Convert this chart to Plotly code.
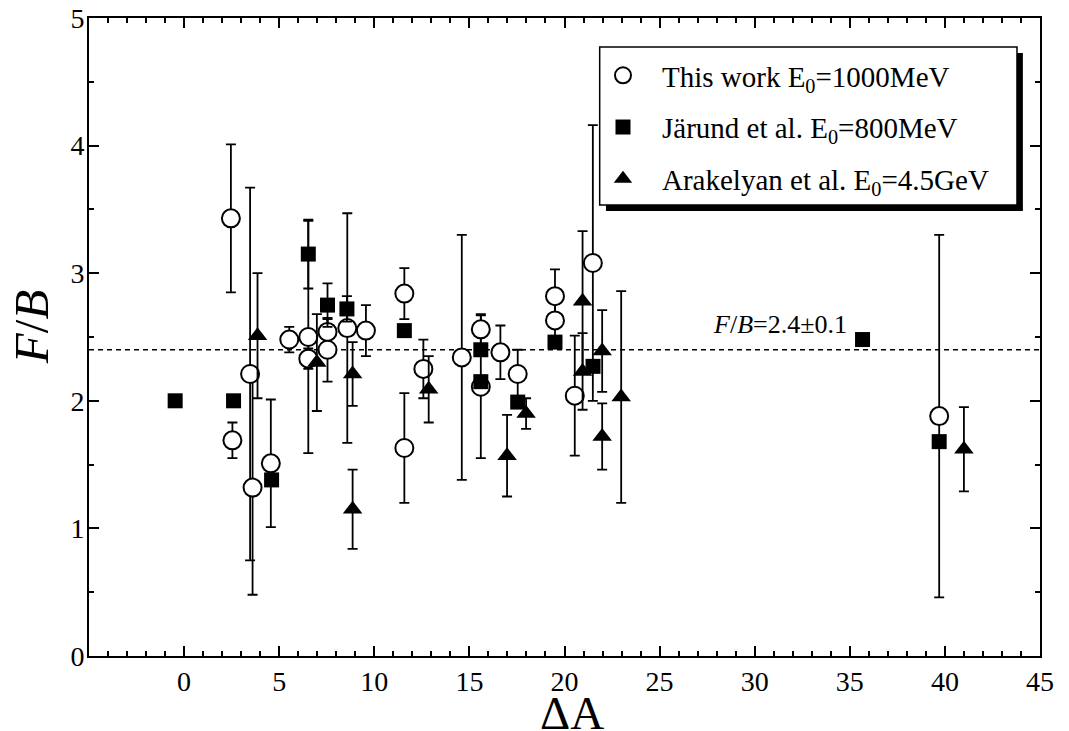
import plotly.graph_objects as go

# ---------------- data ----------------
# This work, E0 = 1000 MeV (open circles)
this_x = [2.46, 2.54, 3.47, 3.60, 4.56, 5.53, 6.53, 6.53, 7.54, 7.54, 8.58, 9.56,
          11.58, 11.58, 12.58, 14.60, 15.60, 15.60, 16.63, 17.54, 19.50, 19.50,
          20.54, 21.49, 39.70]
this_y = [3.43, 1.69, 2.21, 1.32, 1.51, 2.48, 2.50, 2.33, 2.54, 2.40, 2.57, 2.55,
          2.84, 1.63, 2.25, 2.34, 2.56, 2.11, 2.38, 2.21, 2.82, 2.63,
          2.04, 3.08, 1.88]
this_err = [0.58, 0.14, 1.46, 0.84, 0.50, 0.10, 0.91, 0.08, 0.10, 0.25, 0.90, 0.20,
            0.20, 0.43, 0.23, 0.96, 0.12, 0.56, 0.21, 0.19, 0.21, 0.15,
            0.47, 1.08, 1.42]

# Jarund et al., E0 = 800 MeV (filled squares)
jar_x = [-0.47, 2.60, 4.60, 6.53, 7.54, 8.56, 11.58, 15.60, 15.60, 17.54, 19.50,
         21.50, 35.67, 39.70]
jar_y = [2.00, 2.00, 1.38, 3.15, 2.75, 2.72, 2.55, 2.40, 2.15, 1.99, 2.46,
         2.27, 2.48, 1.68]
jar_err = [0, 0, 0, 0.27, 0.17, 0.10, 0, 0, 0, 0, 0, 0, 0, 0]

# Arakelyan et al., E0 = 4.5 GeV (filled triangles)
ara_x = [3.86, 6.98, 8.86, 8.86, 12.86, 16.98, 17.98, 20.95, 20.95, 21.98, 21.98,
         22.98, 41.00]
ara_y = [2.51, 2.30, 2.21, 1.15, 2.09, 1.57, 1.90, 2.78, 2.23, 2.39, 1.72,
         2.03, 1.62]
ara_err = [0.49, 0.38, 0.25, 0.31, 0.26, 0.32, 0.12, 0.55, 0.30, 0.32, 0.26,
           0.83, 0.33]

fit_value = 2.4
fit_label = "<i>F</i>/<i>B</i>=2.4±0.1"

x_ticks = [0, 5, 10, 15, 20, 25, 30, 35, 40, 45]
y_ticks = [0, 1, 2, 3, 4, 5]

names = ["This work E<sub>0</sub>=1000MeV",
         "Järund et al. E<sub>0</sub>=800MeV",
         "Arakelyan et al. E<sub>0</sub>=4.5GeV"]

SERIF = "Liberation Serif"

# ---------------- figure ----------------
fig = go.Figure()

err_style = dict(type="data", color="black", thickness=1.8, width=5, visible=True)

fig.add_trace(go.Scatter(
    x=this_x, y=this_y, mode="markers", name=names[0], legendgroup="a",
    error_y=dict(array=this_err, **err_style),
    marker=dict(symbol="circle", size=18, color="white",
                line=dict(color="black", width=2)),
))
fig.add_trace(go.Scatter(
    x=jar_x, y=jar_y, mode="markers", name=names[1], legendgroup="b",
    error_y=dict(array=jar_err, **err_style),
    marker=dict(symbol="square", size=15, color="black",
                line=dict(color="black", width=0)),
))
fig.add_trace(go.Scatter(
    x=ara_x, y=ara_y, mode="markers", name=names[2], legendgroup="c",
    error_y=dict(array=ara_err, **err_style),
    marker=dict(symbol="triangle-up", size=17, color="black",
                line=dict(color="black", width=0)),
))

# fit line
fig.add_shape(type="line", xref="paper", x0=0, x1=1, yref="y",
              y0=fit_value, y1=fit_value,
              line=dict(color="black", width=1.6, dash="5px,4px"), layer="below")

# legend box with drop shadow
fig.add_shape(type="rect", xref="paper", yref="paper",
              x0=0.5436, x1=0.982, y0=0.6975, y1=0.945,
              fillcolor="black", line=dict(width=0), layer="above")
fig.add_shape(type="rect", xref="paper", yref="paper",
              x0=0.537, x1=0.9758, y0=0.7069, y1=0.9545,
              fillcolor="white", line=dict(color="black", width=1.5), layer="above")

tick_font = dict(family=SERIF, size=28, color="black")

axis_common = dict(
    showline=True, linecolor="black", linewidth=2, mirror="allticks",
    ticks="inside", tickcolor="black", tickwidth=2, ticklen=10,
    showgrid=False, zeroline=False, automargin=False,
)

fig.update_xaxes(range=[-5, 45], tickmode="array", tickvals=x_ticks,
                 ticktext=[str(v) for v in x_ticks], ticklabelstandoff=-1,
                 minor=dict(ticks="inside", dtick=1, tick0=0, ticklen=5,
                            tickwidth=2, tickcolor="black"),
                 **axis_common)
fig.update_yaxes(range=[0, 5], tickmode="array", tickvals=y_ticks,
                 ticktext=[str(v) for v in y_ticks], ticklabelstandoff=-3,
                 minor=dict(ticks="inside", dtick=0.5, tick0=0, ticklen=5,
                            tickwidth=2, tickcolor="black"),
                 **axis_common)
fig.update_xaxes(tickfont=tick_font)
fig.update_yaxes(tickfont=tick_font)

fig.add_annotation(x=27.7, y=2.6, xref="x", yref="y", text=fit_label,
                   showarrow=False, xanchor="left", yanchor="middle",
                   font=dict(family=SERIF, size=26, color="black"))
fig.add_annotation(x=0.508, y=-0.089, xref="paper", yref="paper", text="ΔA",
                   showarrow=False, xanchor="center", yanchor="middle",
                   font=dict(family=SERIF, size=47, color="black"))
fig.add_annotation(x=-0.061, y=0.517, xref="paper", yref="paper",
                   text="<i>F</i>/<i>B</i>", textangle=-90,
                   showarrow=False, xanchor="center", yanchor="middle",
                   font=dict(family=SERIF, size=49, color="black"))

fig.update_layout(
    template="none",
    width=1069, height=731,
    margin=dict(l=89, r=29, t=18, b=75, autoexpand=False),
    font=dict(family=SERIF, size=27, color="black"),
    paper_bgcolor="white", plot_bgcolor="white",
    showlegend=True,
    legend=dict(x=0.5205, y=0.9499, xanchor="left", yanchor="top",
                bgcolor="rgba(0,0,0,0)", borderwidth=0,
                itemwidth=68, traceorder="grouped", tracegroupgap=11,
                font=dict(family=SERIF, size=29, color="black")),
)

fig.write_html("out.html", config={"displayModeBar": False},
               post_script="document.body.style.margin='0';document.body.style.overflow='hidden';")
